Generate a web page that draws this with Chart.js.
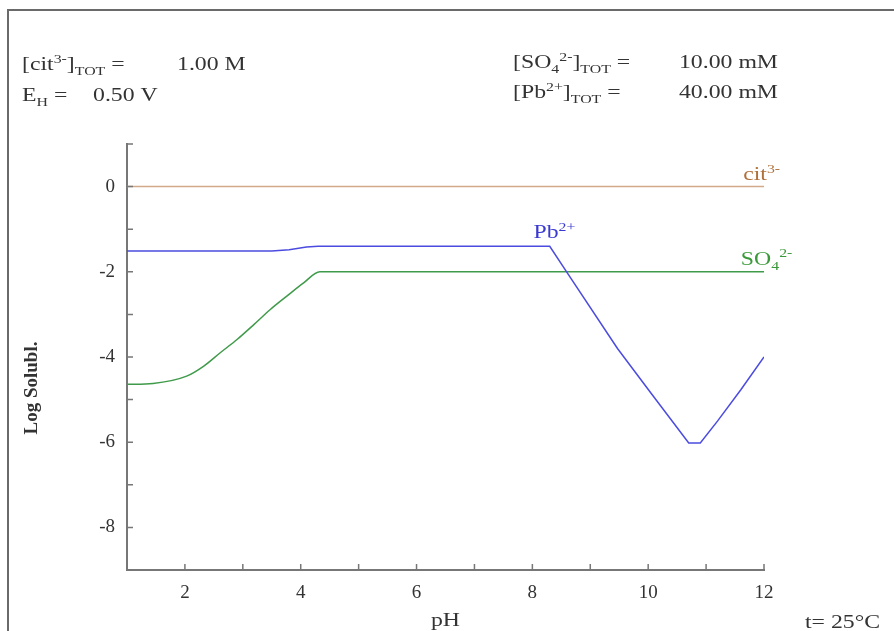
<!DOCTYPE html>
<html>
<head>
<meta charset="utf-8">
<script src="https://cdn.jsdelivr.net/npm/chart.js@4.4.1/dist/chart.umd.min.js"></script>
<style>
    body { margin: 0; background: #fff; }
    .chart-container { position: relative; width: 894px; height: 631px; }
</style>
</head>
<body>
<div class="chart-container">
    <canvas id="chart"></canvas>
</div>
<script>
    // pH / log solubility points for each species
    const phCit = [1, 12]
    const logCit = [0, 0]

    const phPb = [1, 3.5, 3.8, 4.1, 4.3, 8.3, 8.6, 9.47, 10.05, 10.7, 10.9, 11.2, 11.6, 12]
    const logPb = [-1.51, -1.51, -1.48, -1.42, -1.40, -1.40, -2.02, -3.8, -4.85, -6.02, -6.02, -5.5, -4.77, -4.0]

    const phSO4 = [1, 1.45, 2.03, 2.32, 2.61, 2.9, 3.19, 3.47, 3.76, 4.05, 4.33, 12]
    const logSO4 = [-4.64, -4.62, -4.45, -4.22, -3.9, -3.59, -3.24, -2.89, -2.57, -2.26, -2.0, -2.0]

    const xTicks = [2, 4, 6, 8, 10, 12]
    const yTicks = [0, -2, -4, -6, -8]

    const FONT = '"Liberation Serif", "Times New Roman", serif'
    const SX = 1.32

    const toPoints = (xs, ys) => xs.map((x, i) => ({x: x, y: ys[i]}))

    // draws text made of normal / sup / sub runs, stretched sideways
    const drawRich = (ctx, x, y, parts, size, color, align) => {
        ctx.save()
        ctx.translate(x, y)
        ctx.scale(SX, 1)
        ctx.fillStyle = color
        ctx.textBaseline = "alphabetic"
        ctx.textAlign = "left"
        const runs = parts.map(([t, k]) => {
            const fs = k === "n" ? size : Math.round(size * 0.68)
            ctx.font = fs + "px " + FONT
            return {t: t, k: k, fs: fs, w: ctx.measureText(t).width}
        })
        const total = runs.reduce((a, r) => a + r.w, 0)
        let cx = align === "right" ? -total : align === "center" ? -total / 2 : 0
        runs.forEach(r => {
            ctx.font = r.fs + "px " + FONT
            const dy = r.k === "sup" ? -size * 0.4 : r.k === "sub" ? size * 0.28 : 0
            ctx.fillText(r.t, cx, dy)
            cx += r.w
        })
        ctx.restore()
    }

    const curveLabels = [
        {x: 11.64, y: 0.16, parts: [["cit", "n"], ["3-", "sup"]], color: "#b0703a"},
        {x: 8.02, y: -1.2, parts: [["Pb", "n"], ["2+", "sup"]], color: "#3a3ad0"},
        {x: 11.6, y: -1.83, parts: [["SO", "n"], ["4", "sub"], ["2-", "sup"]], color: "#3a9a3a"}
    ]

    const decorations = {
        id: "decorations",
        beforeDraw(chart) {
            const ctx = chart.ctx
            ctx.save()
            ctx.fillStyle = "#fff"
            ctx.fillRect(0, 0, chart.width, chart.height)
            ctx.strokeStyle = "#6a6a6a"
            ctx.lineWidth = 2
            ctx.beginPath()
            ctx.moveTo(8, chart.height)
            ctx.lineTo(8, 10)
            ctx.lineTo(chart.width, 10)
            ctx.stroke()
            ctx.restore()
        },
        afterDatasetsDraw(chart) {
            const ctx = chart.ctx
            const xs = chart.scales.x
            const ys = chart.scales.y
            const area = chart.chartArea

            // inward tick marks on both axes
            ctx.save()
            ctx.strokeStyle = "#777"
            ctx.lineWidth = 1.5
            ctx.beginPath()
            xs.ticks.forEach(t => {
                const px = xs.getPixelForValue(t.value)
                ctx.moveTo(px, area.bottom)
                ctx.lineTo(px, area.bottom - 6)
            })
            ys.ticks.forEach(t => {
                const py = ys.getPixelForValue(t.value)
                ctx.moveTo(area.left, py)
                ctx.lineTo(area.left + 6, py)
            })
            ctx.stroke()
            ctx.restore()

            curveLabels.forEach(l => {
                drawRich(ctx, xs.getPixelForValue(l.x), ys.getPixelForValue(l.y), l.parts, 18, l.color, "left")
            })

            // concentrations in the header
            const ink = "#333"
            drawRich(ctx, 22, 70, [["[cit", "n"], ["3-", "sup"], ["]", "n"], ["TOT", "sub"], [" =", "n"]], 18, ink, "left")
            drawRich(ctx, 177, 70, [["1.00 M", "n"]], 18, ink, "left")
            drawRich(ctx, 22, 101, [["E", "n"], ["H", "sub"], [" =", "n"]], 18, ink, "left")
            drawRich(ctx, 93, 101, [["0.50 V", "n"]], 18, ink, "left")
            drawRich(ctx, 513, 68, [["[SO", "n"], ["4", "sub"], ["2-", "sup"], ["]", "n"], ["TOT", "sub"], [" =", "n"]], 18, ink, "left")
            drawRich(ctx, 778, 68, [["10.00 mM", "n"]], 18, ink, "right")
            drawRich(ctx, 513, 98, [["[Pb", "n"], ["2+", "sup"], ["]", "n"], ["TOT", "sub"], [" =", "n"]], 18, ink, "left")
            drawRich(ctx, 778, 98, [["40.00 mM", "n"]], 18, ink, "right")

            // axis titles and temperature
            drawRich(ctx, (area.left + area.right) / 2, 626, [["pH", "n"]], 18, ink, "center")
            drawRich(ctx, 805, 628, [["t= 25°C", "n"]], 18, ink, "left")

            ctx.save()
            ctx.translate(32, 388)
            ctx.rotate(-Math.PI / 2)
            ctx.fillStyle = ink
            ctx.font = "bold 19px " + FONT
            ctx.textAlign = "center"
            ctx.textBaseline = "middle"
            ctx.fillText("Log Solubl.", 0, 0)
            ctx.restore()
        }
    }

    const lineSet = (xs, ys, color, smooth) => ({
        data: toPoints(xs, ys),
        borderColor: color,
        borderWidth: 1.5,
        pointRadius: 0,
        fill: false,
        cubicInterpolationMode: smooth ? "monotone" : "default",
        tension: 0
    })

    const tickFont = {family: FONT, size: 19}

    new Chart(document.getElementById("chart").getContext("2d"), {
        type: "line",
        data: {
            datasets: [
                lineSet(phCit, logCit, "#d2aa8a", false),
                lineSet(phPb, logPb, "#4b4be0", false),
                lineSet(phSO4, logSO4, "#3f9a4a", true)
            ]
        },
        options: {
            responsive: true,
            maintainAspectRatio: false,
            animation: false,
            layout: {padding: {top: 144, right: 130, left: 0, bottom: 0}},
            plugins: {legend: {display: false}, tooltip: {enabled: false}},
            scales: {
                x: {
                    type: "linear",
                    min: 1,
                    max: 12,
                    afterFit: (scale) => { scale.height = 61 },
                    border: {color: "#777", width: 2},
                    grid: {display: false, drawTicks: false},
                    ticks: {
                        stepSize: 1,
                        autoSkip: false,
                        maxRotation: 0,
                        padding: 12,
                        color: "#333",
                        font: tickFont,
                        callback: (v) => xTicks.includes(v) ? String(v) : ""
                    }
                },
                y: {
                    type: "linear",
                    min: -9,
                    max: 1,
                    afterFit: (scale) => { scale.width = 127 },
                    border: {color: "#777", width: 2},
                    grid: {display: false, drawTicks: false},
                    ticks: {
                        stepSize: 1,
                        autoSkip: false,
                        padding: 12,
                        color: "#333",
                        font: tickFont,
                        callback: (v) => yTicks.includes(v) ? String(v) : ""
                    }
                }
            }
        },
        plugins: [decorations]
    })
</script>
</body>
</html>
